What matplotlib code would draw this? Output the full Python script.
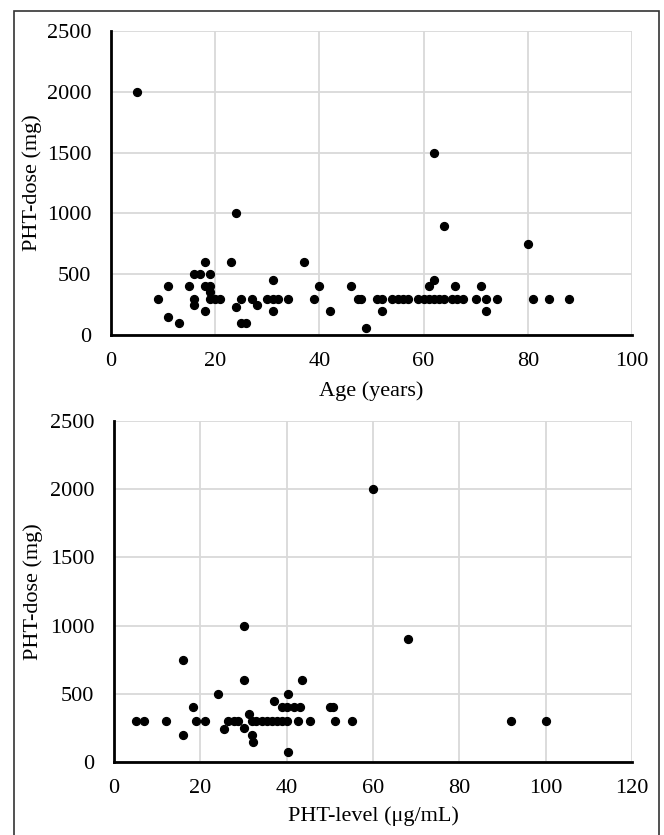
import matplotlib
matplotlib.use("Agg")
import matplotlib.pyplot as plt
from matplotlib.patches import Rectangle

# Top panel: Age vs PHT-dose
ages = [5, 9, 11, 11, 13, 15, 16, 16, 16, 17, 18, 18, 18, 19, 19, 19, 19, 20, 21,
        23, 24, 24, 25, 25, 26, 27, 28, 30, 31, 31, 31, 32, 34, 37, 39, 40, 42, 46,
        47.5, 48, 49, 51, 52, 52, 54, 55, 56, 57, 59, 60, 61, 61, 62, 62, 62, 63,
        64, 64, 65.5, 66, 66.5, 67.5, 70, 71, 72, 72, 74, 80, 81, 84, 88]
doses = [2000, 300, 400, 150, 100, 400, 500, 300, 250, 500, 600, 400, 200, 500, 400,
         350, 300, 300, 300, 600, 1000, 230, 300, 100, 100, 300, 250, 300, 450, 300,
         200, 300, 300, 600, 300, 400, 200, 400, 300, 300, 60, 300, 300, 200, 300,
         300, 300, 300, 300, 300, 300, 400, 300, 450, 1500, 300, 300, 900, 300, 400,
         300, 300, 300, 400, 300, 200, 300, 750, 300, 300, 300]

# Bottom panel: PHT-level vs PHT-dose
levels = [5, 7, 12, 16, 16, 18.4, 19, 21, 24, 25.5, 26.5, 27.7, 28.8, 30, 30, 30,
          31.3, 32, 33, 32, 32.3, 34.2, 35.4, 36.5, 37.7, 38.9, 40, 37, 39, 40,
          40.2, 40.2, 41.6, 43, 42.7, 43.5, 45.3, 50, 50.8, 51.2, 55.2, 60, 68, 92, 100]
pdoses = [300, 300, 300, 750, 200, 400, 300, 300, 500, 240, 300, 300, 300, 1000, 600,
          250, 350, 300, 300, 200, 150, 300, 300, 300, 300, 300, 300, 450, 400, 400,
          500, 70, 400, 400, 300, 600, 300, 400, 400, 300, 300, 2000, 900, 300, 300]

y_ticks = [0, 500, 1000, 1500, 2000, 2500]
x_ticks_top = [0, 20, 40, 60, 80, 100]
x_ticks_bot = [0, 20, 40, 60, 80, 100, 120]

plt.rcParams['font.family'] = ['Liberation Serif', 'DejaVu Serif']

fig = plt.figure(figsize=(6.64, 8.35), dpi=100)
W, H = 664, 835
FS = 16

def style(ax, xt, xlabel, left_px, top_px, bot_px, ylab_x_px, xlab_y_px):
    ax.set_ylim(0, 2500)
    ax.set_xlim(xt[0], xt[-1])
    ax.set_xticks(xt)
    ax.set_yticks(y_ticks)
    ax.grid(True, color='#d9d9d9', linewidth=1.3)
    ax.set_axisbelow(True)
    for s in ['top', 'right']:
        ax.spines[s].set_visible(False)
    for s in ['left', 'bottom']:
        ax.spines[s].set_color('black')
        ax.spines[s].set_linewidth(2)
        ax.spines[s].set_zorder(5)
    ax.tick_params(axis='both', length=0, labelsize=FS)
    ax.tick_params(axis='y', pad=14)
    ax.tick_params(axis='x', pad=12)
    width_px = 632 - left_px
    height_px = bot_px - top_px
    ax.set_ylabel('PHT-dose (mg)', fontsize=FS, va='center')
    ax.yaxis.set_label_coords((ylab_x_px - left_px) / width_px, 0.5)
    ax.set_xlabel(xlabel, fontsize=FS, va='center')
    ax.xaxis.set_label_coords(0.5, (bot_px - xlab_y_px) / height_px)

ax1 = fig.add_axes([111 / W, 1 - 335 / H, (632 - 111) / W, (335 - 31) / H])
ax1.scatter(ages, doses, s=32, color='black', zorder=3, clip_on=False)
style(ax1, x_ticks_top, 'Age (years)', 111, 31, 335, 32, 391)

ax2 = fig.add_axes([114 / W, 1 - 762 / H, (632 - 114) / W, (762 - 421) / H])
ax2.scatter(levels, pdoses, s=32, color='black', zorder=3, clip_on=False)
style(ax2, x_ticks_bot, 'PHT-level (\u03bcg/mL)', 114, 421, 762, 33, 816)

fig.patches.append(Rectangle((14 / W, -0.02), (659 - 14) / W, 1.02 - 11 / H,
                             transform=fig.transFigure, fill=False,
                             edgecolor='#333333', linewidth=1.2))

fig.savefig('out.png', dpi=100)
